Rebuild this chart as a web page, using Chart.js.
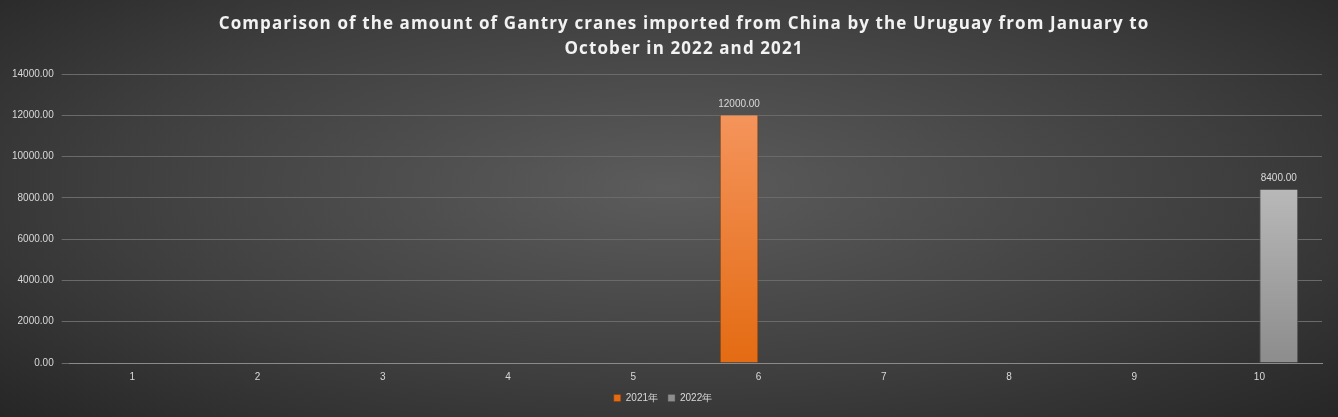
<!DOCTYPE html>
<html><head><meta charset="utf-8">
<script src="https://cdn.jsdelivr.net/npm/chart.js"></script>
<style>
html,body{margin:0;padding:0;}
body{width:1338px;height:417px;background:radial-gradient(ellipse at 50% 45%, #5c5c5c 0%, #3e3e3e 60%, #262626 100%);}
#w{position:relative;width:1338px;height:417px;}
</style></head><body>
<div id="w"><canvas id="c" width="1338" height="417"></canvas></div>
<script>
const categories=['1','2','3','4','5','6','7','8','9','10'];
const values2021=[0,0,0,0,0,12000,0,0,0,0];
const values2022=[0,0,0,0,0,0,0,0,0,8400];
const yTicks=[0,2000,4000,6000,8000,10000,12000,14000];
const titleLines=['Comparison of the amount of Gantry cranes imported from China by the Uruguay from January to','October in 2022 and 2021'];
const ctx=document.getElementById('c').getContext('2d');
const og=ctx.createLinearGradient(0,120,0,356);og.addColorStop(0,'#f4935a');og.addColorStop(1,'#e46c14');
const gg=ctx.createLinearGradient(0,190,0,356);gg.addColorStop(0,'#b8b8b8');gg.addColorStop(1,'#8e8e8e');
const labelPlugin={id:'lbl',afterDatasetsDraw(ch){const c=ch.ctx;c.save();c.fillStyle='#d9d9d9';c.font='10px "Liberation Sans", Arial';c.textAlign='center';
ch.data.datasets.forEach((ds,i)=>{ch.getDatasetMeta(i).data.forEach((b,j)=>{if(ds.data[j]>0)c.fillText(ds.data[j].toFixed(2),b.x,b.y-11);});});c.restore();}};
const titlePlugin={id:'ttl',afterDraw(ch){const c=ch.ctx;c.save();c.fillStyle='#f2f2f2';c.font='bold 17px "Open Sans", sans-serif';c.textAlign='center';c.textBaseline='middle';
if('letterSpacing' in c)c.letterSpacing='1.1px';
titleLines.forEach((t,i)=>c.fillText(t,684,24+i*25));c.restore();}};
new Chart(ctx,{type:'bar',data:{labels:categories,datasets:[
{label:'2021年',data:values2021,backgroundColor:og,borderColor:'#7a3a0a',borderWidth:{left:1,right:1,top:0,bottom:0}},
{label:'2022年',data:values2022,backgroundColor:gg,borderColor:'#555',borderWidth:{left:1,right:1,top:0,bottom:0}}]},
options:{responsive:false,animation:false,
layout:{padding:{left:4,right:16,top:74,bottom:4}},
plugins:{title:{display:false},
legend:{position:'bottom',labels:{color:'#d9d9d9',boxWidth:7,boxHeight:7,font:{size:10,family:'"Liberation Sans", Arial'},padding:10}},tooltip:{enabled:false}},
datasets:{bar:{categoryPercentage:0.62,barPercentage:1}},
scales:{x:{grid:{display:false},border:{color:'#8a8a8a'},ticks:{color:'#d9d9d9',font:{size:10,family:'"Liberation Sans", Arial'},padding:0}},
y:{min:0,max:14000,afterBuildTicks(a){a.ticks=yTicks.map(v=>({value:v}));},grid:{color:'#6a6a6a'},border:{display:false},
ticks:{color:'#d9d9d9',font:{size:10,family:'"Liberation Sans", Arial'},callback:v=>v.toFixed(2),padding:8}}}},
plugins:[labelPlugin,titlePlugin]});
</script></body></html>
